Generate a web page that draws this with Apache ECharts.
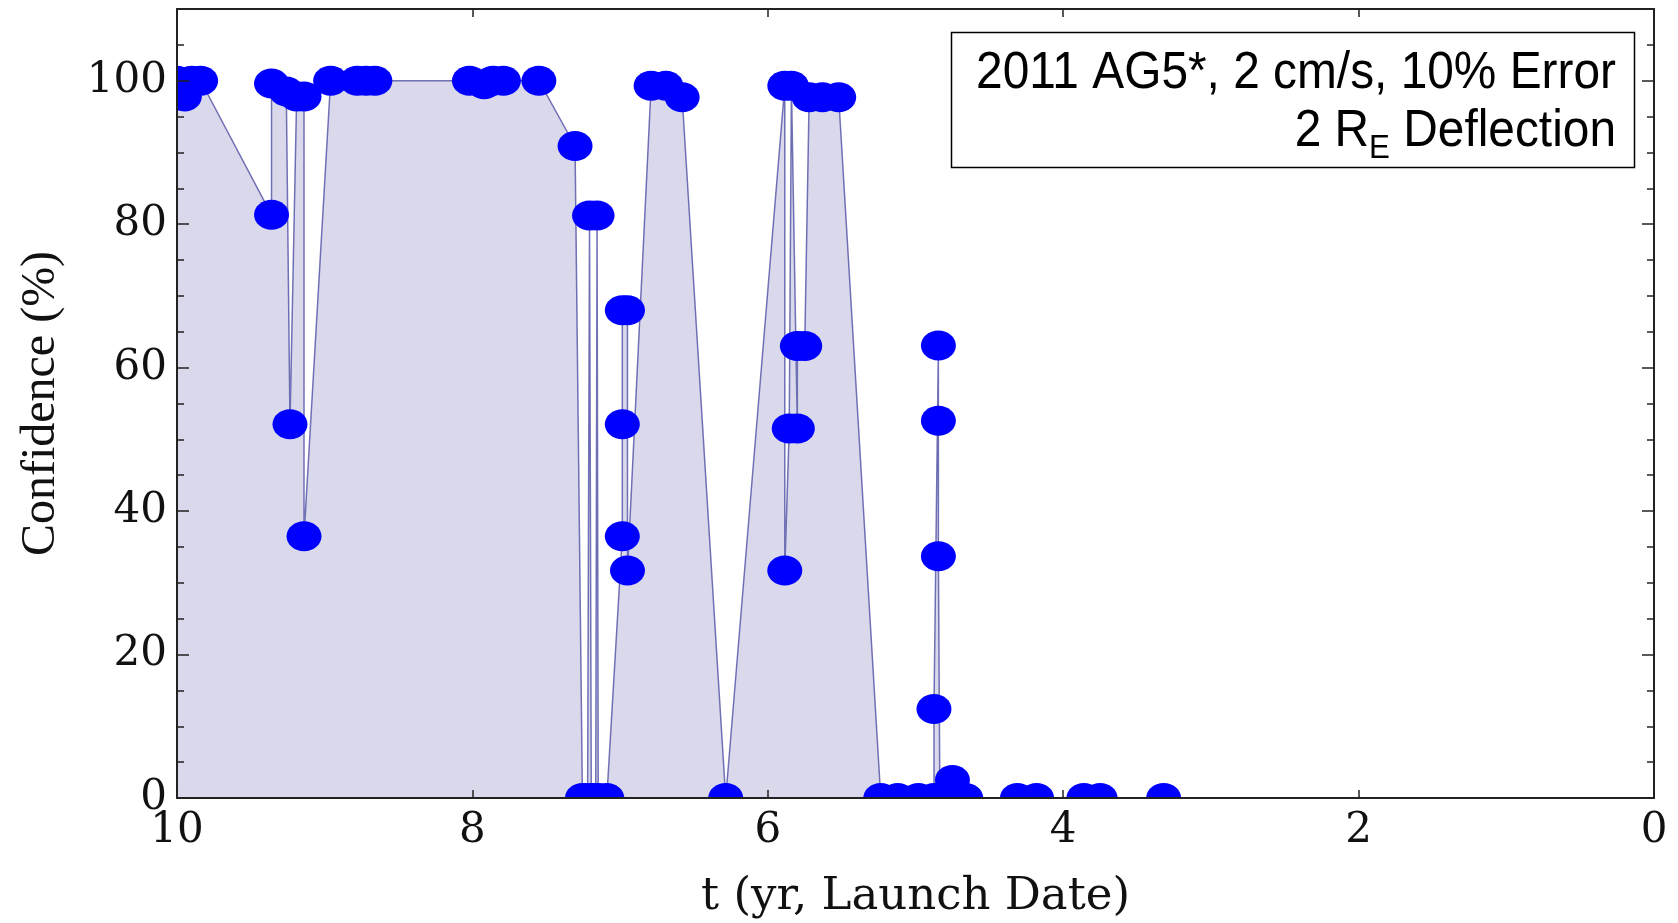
<!DOCTYPE html>
<html>
<head>
<meta charset="utf-8">
<title>2011 AG5 deflection confidence</title>
<script src="https://cdn.jsdelivr.net/npm/echarts@6/dist/echarts.min.js"></script>
<style>
  html, body { margin: 0; padding: 0; background: #ffffff; }
  #chart { width: 1678px; height: 923px; }
</style>
</head>
<body>
<div id="chart"></div>
<script>
// Launch date (years before encounter) for each computed case, in plotting order
const launchYears = [
  10, 9.95, 9.9, 9.84,
  9.36, 9.36, 9.26, 9.235, 9.19, 9.14, 9.14,
  8.96, 8.78, 8.72, 8.66,
  8.02, 7.92, 7.86, 7.79, 7.55,
  7.305, 7.255, 7.22, 7.207, 7.195, 7.165, 7.156, 7.148, 7.09,
  6.985, 6.985, 6.985, 6.95, 6.95,
  6.79, 6.69, 6.58, 6.285,
  5.885, 5.885, 5.855, 5.84, 5.80, 5.80, 5.75,
  5.72, 5.63, 5.52,
  5.235, 5.12, 4.98,
  4.875, 4.875, 4.845, 4.845, 4.845,
  4.835, 4.75, 4.70, 4.66,
  4.31, 4.18, 3.86, 3.75, 3.32
];
// Deflection confidence (%) for each case
const confidence = [
  100, 97.8, 100, 100,
  81.3, 99.6, 98.5, 52.1, 97.8, 97.8, 36.5,
  100, 100, 100, 100,
  100, 99.5, 100, 100, 100,
  90.9, 0, 0, 81.2, 0, 0, 81.2, 0, 0,
  36.5, 52.1, 68, 68, 31.7,
  99.3, 99.3, 97.7, 0,
  99.3, 31.7, 51.5, 99.3, 51.5, 63, 63,
  97.7, 97.7, 97.7,
  0, 0, 0,
  0, 12.4, 63.1, 52.6, 33.7,
  0, 2.5, 0, 0,
  0, 0, 0, 0, 0
];
const xTickLabels = ['10', '8', '6', '4', '2', '0'];
const yTickLabels = ['0', '20', '40', '60', '80', '100'];

const points = launchYears.map((t, i) => [t, confidence[i]]);

const axisColor = '#222222';
const labelFont = 'DejaVu Serif';

function tickFormatter(list) {
  return v => (list.indexOf(String(v)) >= 0 ? String(v) : '');
}

function frameX(position, withLabels) {
  return {
    type: 'value', min: 0, max: 10, interval: 2, inverse: true,
    position: position, z: 6,
    axisLine: { show: true, onZero: false, lineStyle: { color: axisColor, width: 2 } },
    axisTick: { show: true, inside: true, length: 8, lineStyle: { color: axisColor, width: 1.5 } },
    axisLabel: {
      show: withLabels, margin: 12, fontFamily: labelFont, fontSize: 42, color: '#111111',
      formatter: tickFormatter(xTickLabels)
    },
    splitLine: { show: false }
  };
}

function frameY(position, interval, tickLen, withLine, withLabels) {
  return {
    type: 'value', min: 0, max: 110, interval: interval,
    position: position, z: 6,
    axisLine: { show: withLine, onZero: false, lineStyle: { color: axisColor, width: 2 } },
    axisTick: { show: true, inside: true, length: tickLen, lineStyle: { color: axisColor, width: 1.5 } },
    axisLabel: {
      show: withLabels, margin: 10, fontFamily: labelFont, fontSize: 42, color: '#111111',
      showMaxLabel: false, formatter: tickFormatter(yTickLabels)
    },
    splitLine: { show: false }
  };
}

const xBottom = frameX('bottom', true);
xBottom.name = 't (yr, Launch Date)';
xBottom.nameLocation = 'middle';
xBottom.nameGap = 77;
xBottom.nameTextStyle = { fontFamily: labelFont, fontSize: 45, color: '#111111' };

const yLeft = frameY('left', 20, 12, true, true);
yLeft.name = 'Confidence (%)';
yLeft.nameLocation = 'middle';
yLeft.nameGap = 112;
yLeft.nameTextStyle = { fontFamily: 'Liberation Serif', fontSize: 48, color: '#111111' };

const chart = echarts.init(document.getElementById('chart'), null, { renderer: 'canvas' });

chart.setOption({
  animation: false,
  backgroundColor: '#ffffff',
  grid: { left: 177, right: 24, top: 9, bottom: 125, outerBoundsMode: 'none' },
  xAxis: [xBottom, frameX('top', false)],
  yAxis: [
    yLeft,
    frameY('left', 5, 7, false, false),
    frameY('right', 20, 12, true, false),
    frameY('right', 5, 7, false, false)
  ],
  series: [
    {
      // connecting line with filling down to the axis
      type: 'line',
      data: points,
      symbol: 'none',
      xAxisIndex: 0, yAxisIndex: 0,
      lineStyle: { color: 'rgba(70, 70, 160, 0.75)', width: 1.5 },
      areaStyle: { color: '#d9d9eb', opacity: 1 },
      z: 2
    },
    {
      // elliptical point markers, clipped to the plot frame
      type: 'custom',
      data: points,
      xAxisIndex: 0, yAxisIndex: 0,
      clip: true,
      z: 3,
      renderItem: function (params, api) {
        const p = api.coord([api.value(0), api.value(1)]);
        return {
          type: 'ellipse',
          shape: { cx: p[0], cy: p[1], rx: 17.5, ry: 15 },
          style: { fill: '#0000ff' }
        };
      }
    }
  ],
  graphic: [
    {
      type: 'rect', z: 20,
      shape: { x: 951.5, y: 32.5, width: 683, height: 135 },
      style: { fill: '#ffffff', stroke: '#000000', lineWidth: 1.5 }
    },
    {
      type: 'text', z: 21, x: 1616, y: 74, scaleX: 0.92,
      style: {
        text: '2011 AG5*, 2 cm/s, 10% Error',
        font: '52px "Liberation Sans"', fill: '#000000',
        align: 'right', verticalAlign: 'middle'
      }
    },
    {
      type: 'text', z: 21, x: 1616, y: 132, scaleX: 0.92,
      style: {
        text: '{m|2 R}{s|E}{m| Deflection}',
        align: 'right', verticalAlign: 'middle', fill: '#000000',
        rich: {
          m: { fontFamily: 'Liberation Sans', fontSize: 52, lineHeight: 56, fill: '#000000' },
          s: { fontFamily: 'Liberation Sans', fontSize: 34, lineHeight: 34, padding: [33, 0, 0, 0], fill: '#000000' }
        }
      }
    }
  ]
});
</script>
</body>
</html>
